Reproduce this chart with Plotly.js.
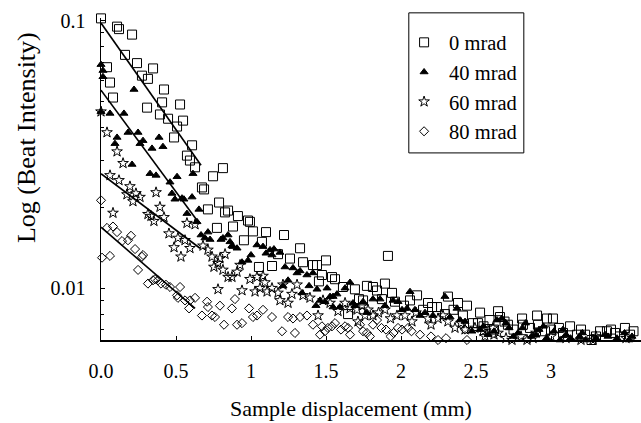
<!DOCTYPE html>
<html>
<head>
<meta charset="utf-8">
<script src="https://cdn.plot.ly/plotly-3.0.1.min.js"></script>
<style>html,body{margin:0;padding:0;background:#fff;}#chart{width:641px;height:423px;}</style>
</head>
<body>
<div id="chart"></div>
<script>
// ---- Data ----
const seriesNames = ['0 mrad', '40 mrad', '60 mrad', '80 mrad'];

const x0 = [0.0,0.18,0.107,0.12,0.207,0.16,0.24,0.04,0.347,0.313,0.273,0.06,0.42,0.08,0.527,0.407,0.307,0.393,0.447,0.547,0.507,0.487,0.607,0.573,0.593,0.627,0.813,0.747,0.673,0.687,0.787,0.847,0.713,0.913,0.98,0.827,0.993,0.773,0.88,1.013,1.10,0.953,1.073,1.22,1.327,1.18,1.26,1.053,1.14,1.347,1.413,1.44,1.50,1.473,1.54,1.56,1.453,1.613,1.693,1.773,1.813,1.893,1.84,1.72,1.647,1.94,1.96,1.913,2.107,1.747,1.873,2.313,2.44,2.207,2.24,2.147,2.293,2.527,2.647,2.413,2.48,2.66,2.807,2.907,2.973,3.013,2.813,2.913,3.127,3.173,3.373,3.427,3.493,3.227,2.713,2.513,3.327,3.053,3.527,3.27,2.96,2.59,
  2.55,2.62,2.69,2.75,2.86,3.0,3.08,3.2,3.3,3.40,3.46,3.55,2.02,2.06,2.18,2.35,2.38];
const y0 = [0.102,0.105,0.095,0.093,0.0887,0.0745,0.0694,0.067,0.0663,0.0606,0.0623,0.0587,0.0553,0.0516,0.0486,0.0495,0.0473,0.0446,0.0430,0.0423,0.0402,0.0366,0.0342,0.0313,0.0300,0.0283,0.0281,0.0262,0.0238,0.0234,0.0209,0.0195,0.0197,0.0186,0.0179,0.0192,0.0177,0.0168,0.0170,0.0163,0.0162,0.0151,0.0149,0.0158,0.0141,0.0134,0.0129,0.0120,0.0121,0.0125,0.0122,0.0122,0.0127,0.0112,0.0110,0.0108,0.0106,0.0101,0.0099,0.0102,0.0101,0.0104,0.0098,0.0091,0.0080,0.0096,0.0089,0.0132,0.0094,0.0090,0.0091,0.0093,0.0086,0.0085,0.0085,0.0083,0.0080,0.0081,0.0082,0.0079,0.0074,0.0078,0.0077,0.0079,0.0077,0.0077,0.0073,0.0073,0.0072,0.0067,0.0069,0.0068,0.0071,0.0067,0.0073,0.0074,0.0069,0.0071,0.0067,0.0064,0.0069,0.0076,
  0.0072,0.0070,0.0075,0.0070,0.0071,0.0070,0.0068,0.0070,0.0066,0.0070,0.0066,0.0069,0.0086,0.0090,0.0088,0.0083,0.0088];

const x40 = [0.0,0.013,0.013,0.22,0.0,0.06,0.153,0.18,0.247,0.107,
  0.093,0.28,0.26,0.387,0.34,0.413,0.207,0.327,0.367,0.613,
  0.46,0.507,0.473,0.493,0.54,0.553,0.607,0.573,0.64,0.653,
  0.713,0.667,0.693,0.727,0.80,0.813,0.847,0.873,0.86,0.88,
  0.907,1.04,1.08,1.00,0.94,0.98,1.127,1.10,1.153,1.193,
  1.14,1.227,1.28,1.307,1.327,1.247,1.213,1.373,1.413,1.387,
  1.34,1.44,1.507,1.527,1.547,1.573,1.66,1.627,1.46,1.493,
  1.433,1.547,1.593,1.68,1.747,1.693,1.773,1.813,1.86,1.893,
  1.947,1.98,2.007,2.06,2.04,2.093,2.127,2.16,2.213,2.293,
  2.327,2.373,2.393,2.427,2.473,2.48,2.527,2.58,2.64,2.673,
  2.72,2.78,2.83,2.87,2.92,2.97,3.02,3.06,3.10,3.15,
  3.19,3.23,3.27,3.30,3.34,3.38,3.42,3.46,3.49,3.52,3.55,
  2.55,2.62,2.70,2.75,2.81,2.9,2.95,3.0,3.08,3.13,3.21,3.29,3.36,3.44,3.50,3.54];
const y40 = [0.0685,0.0651,0.0617,0.0553,0.0457,0.0450,0.0450,0.0382,0.0382,0.0366,
  0.0347,0.0356,0.0347,0.0366,0.0333,0.0338,0.0290,0.0268,0.0264,0.0268,
  0.0249,0.0261,0.0226,0.0215,0.0217,0.0215,0.0219,0.0190,0.0177,0.0197,
  0.0162,0.0158,0.0154,0.0152,0.0152,0.0154,0.0158,0.0144,0.0149,0.0143,
  0.0141,0.0145,0.0143,0.0133,0.0125,0.0127,0.0139,0.0135,0.0140,0.0136,
  0.0133,0.0120,0.0119,0.0114,0.0116,0.0107,0.0102,0.0112,0.0114,0.0102,
  0.0096,0.0099,0.0100,0.0093,0.0093,0.0095,0.0105,0.0100,0.0090,0.0089,
  0.0086,0.0085,0.0085,0.0088,0.0089,0.0086,0.0081,0.0091,0.0091,0.0086,
  0.0090,0.0089,0.0083,0.0097,0.0084,0.0083,0.0079,0.0081,0.0079,0.0093,
  0.0078,0.0084,0.0076,0.0075,0.0069,0.0058,0.0070,0.0067,0.0076,0.0077,
  0.0071,0.0068,0.0074,0.0066,0.0070,0.0065,0.0069,0.0064,0.0067,0.0063,
  0.0066,0.0064,0.0062,0.0065,0.0061,0.0066,0.0063,0.0060,0.0068,0.0064,0.0058,
  0.0072,0.0069,0.0074,0.0066,0.0071,0.0067,0.0072,0.0062,0.0070,0.0065,0.0068,0.0063,0.0067,0.0065,0.0062,0.0066];

const x60 = [0.0,0.04,0.107,0.147,0.06,0.12,0.193,0.173,0.233,0.213,
  0.26,0.367,0.08,0.313,0.333,0.393,0.353,0.42,0.573,0.627,
  0.453,0.513,0.56,0.487,0.593,0.533,0.68,0.713,0.74,0.793,
  0.78,0.753,0.827,0.813,0.847,0.873,0.78,0.927,0.907,0.94,
  0.993,1.04,1.08,1.093,1.027,1.06,1.107,1.14,1.18,1.213,
  1.273,1.307,1.247,1.193,1.347,1.393,1.447,1.48,1.527,1.58,
  1.627,1.66,1.707,1.74,1.76,1.713,1.78,1.813,1.893,1.973,
  2.027,2.073,2.18,2.247,2.313,2.36,2.427,2.493,2.547,2.613,
  2.647,2.673,2.74,2.84,2.80,2.90,2.95,3.00,3.05,3.10,
  3.15,3.20,3.25,3.30,3.35,3.40,3.45,3.50,3.55,
  2.56,2.62,2.70,2.77,2.88,2.98,3.08,3.18,3.28,3.38,3.48,1.85,1.93,2.1,2.2,2.28,2.4];
const y60 = [0.0457,0.0382,0.0324,0.0293,0.0264,0.0253,0.0240,0.0224,0.0226,0.0211,
  0.0219,0.0228,0.0191,0.0189,0.0186,0.0201,0.0178,0.0184,0.0175,0.0173,
  0.0160,0.0154,0.0151,0.0142,0.0141,0.0131,0.0144,0.0139,0.0131,0.0129,
  0.0124,0.0120,0.0134,0.0117,0.0110,0.0110,0.0099,0.0122,0.0115,0.0098,
  0.0108,0.0110,0.0111,0.0105,0.0097,0.0100,0.0097,0.0100,0.0096,0.0103,
  0.0095,0.0103,0.0088,0.0090,0.0094,0.0092,0.0079,0.0090,0.0088,0.0082,
  0.0088,0.0084,0.0083,0.0086,0.0079,0.0075,0.0083,0.0079,0.0083,0.0079,
  0.0079,0.0075,0.0077,0.0077,0.0075,0.0071,0.0070,0.0071,0.0069,0.0071,
  0.0068,0.0061,0.0064,0.0064,0.0066,0.0068,0.0063,0.0066,0.0061,0.0065,
  0.0060,0.0064,0.0062,0.0066,0.0060,0.0063,0.0061,0.0065,0.0062,
  0.0066,0.0067,0.0065,0.0062,0.0065,0.0062,0.0063,0.0062,0.0064,0.0062,0.0063,0.0081,0.0077,0.0081,0.0073,0.0079,0.0074];

const x80 = [0.0,0.007,0.06,0.04,0.08,0.107,0.14,0.18,0.20,0.227,
  0.273,0.28,0.247,0.313,0.347,0.36,0.38,0.40,0.433,0.46,
  0.527,0.507,0.513,0.56,0.593,0.627,0.587,0.707,0.713,0.673,
  0.74,0.76,0.793,0.82,0.873,0.893,0.907,0.94,0.987,1.013,
  1.04,1.08,1.14,1.207,1.247,1.28,1.293,1.327,1.373,1.413,
  1.46,1.473,1.493,1.513,1.54,1.56,1.60,1.627,1.647,1.66,
  1.727,1.747,1.773,1.793,1.813,1.84,1.90,1.93,1.98,2.007,
  2.047,2.127,2.147,2.247,2.327,2.427,2.44,2.58,2.607,2.573,
  2.66,2.747,2.773,2.85,2.907,2.97,3.03,3.10,3.193,3.24,
  3.28,3.33,3.373,3.42,3.46,3.50,3.54,3.56,
  2.62,2.7,2.82,2.95,3.06,3.15,3.3,3.45,3.52,1.87,1.95,2.07,2.2,2.3];
const y80 = [0.0213,0.0130,0.0132,0.0168,0.0170,0.0162,0.0150,0.0151,0.0157,0.0140,
  0.0131,0.0133,0.0117,0.0104,0.0107,0.0108,0.0107,0.0104,0.0103,0.0101,
  0.0101,0.0094,0.0092,0.0090,0.0090,0.0092,0.0084,0.0089,0.0085,0.0079,
  0.0079,0.0078,0.0086,0.0073,0.0084,0.0091,0.0073,0.0074,0.0084,0.0078,
  0.0079,0.0083,0.0078,0.0069,0.0078,0.0077,0.0068,0.0078,0.0079,0.0073,
  0.0067,0.0072,0.0069,0.0071,0.0072,0.0074,0.0070,0.0072,0.0071,0.0067,
  0.0073,0.0069,0.0068,0.0066,0.0073,0.0076,0.0070,0.0066,0.0071,0.0070,
  0.0071,0.0067,0.0063,0.0064,0.0061,0.0070,0.0064,0.0060,0.0059,0.0055,
  0.0063,0.0056,0.0060,0.0062,0.0059,0.0061,0.0058,0.0060,0.0062,0.0057,
  0.0055,0.0059,0.0056,0.0058,0.0055,0.0059,0.0052,0.0055,
  0.0061,0.0058,0.0058,0.0062,0.0057,0.0059,0.0057,0.0058,0.0056,0.0071,0.0068,0.0069,0.0066,0.0065];

// Fitted lines (start, end) for each series
const fitX0 = [0, 0.667],  fitY0 = [0.098, 0.0288];
const fitX40 = [0, 0.647], fitY40 = [0.055, 0.0177];
const fitX60 = [0, 0.66],  fitY60 = [0.0268, 0.0141];
const fitX80 = [0, 0.627], fitY80 = [0.0169, 0.0084];

const xTickVals = [0, 0.5, 1, 1.5, 2, 2.5, 3];
const xTickText = ['0.0', '0.5', '1', '1.5', '2', '2.5', '3'];
const yTickVals = [0.01, 0.1];
const yTickText = ['0.01', '0.1'];
const yMinorVals = [0.007, 0.008, 0.009, 0.02, 0.03, 0.04, 0.05, 0.06, 0.07, 0.08, 0.09];
const xTitle = 'Sample displacement (mm)';
const yTitle = 'Log (Beat Intensity)';

// ---- Chart ----
const FONT = 'Liberation Serif, Times New Roman, serif';
function pts(x, y, name, symbol, size) {
  return {x: x, y: y, name: name, type: 'scatter', mode: 'markers', cliponaxis: false,
    marker: {symbol: symbol, size: size, color: '#000', line: {color: '#000', width: 1}}};
}
function fit(x, y) {
  return {x: x, y: y, type: 'scatter', mode: 'lines', showlegend: false, hoverinfo: 'skip',
    line: {color: '#000', width: 1.6}};
}
const data = [
  pts(x0, y0, seriesNames[0], 'square-open', 9),
  pts(x40, y40, seriesNames[1], 'triangle-up', 7),
  pts(x60, y60, seriesNames[2], 'star-open', 8),
  pts(x80, y80, seriesNames[3], 'diamond-open', 7),
  fit(fitX0, fitY0), fit(fitX40, fitY40), fit(fitX60, fitY60), fit(fitX80, fitY80)
];
const layout = {
  width: 641, height: 423,
  margin: {l: 101, r: 0, t: 18, b: 83},
  paper_bgcolor: '#fff', plot_bgcolor: '#fff',
  font: {family: FONT, color: '#000', size: 20},
  showlegend: true,
  legend: {x: 0.552, y: 0.986, xanchor: 'left', yanchor: 'top', bgcolor: 'rgba(0,0,0,0)',
    borderwidth: 0, font: {family: FONT, size: 20.5, color: '#000'}, itemwidth: 40, tracegroupgap: 0},
  shapes: [{type: 'rect', xref: 'paper', yref: 'paper', x0: 0.570, x1: 0.783, y0: 0.581, y1: 1.016,
    line: {color: '#000', width: 1}, fillcolor: 'rgba(0,0,0,0)'}],
  annotations: [
    {text: yTitle, xref: 'paper', yref: 'paper', x: -0.139, y: 0.63,
      xanchor: 'center', yanchor: 'middle', textangle: -90, showarrow: false,
      font: {family: FONT, size: 26, color: '#000'}},
    {text: xTitle, xref: 'paper', yref: 'paper', x: 0.463, y: -0.214,
      xanchor: 'center', yanchor: 'middle', showarrow: false,
      font: {family: FONT, size: 22, color: '#000'}}
  ],
  xaxis: {range: [0, 3.6], showline: true, linecolor: '#000', linewidth: 1.5, mirror: false,
    showgrid: false, zeroline: false, ticks: 'inside', ticklen: 4, tickcolor: '#000',
    tickvals: xTickVals, ticktext: xTickText, ticklabelstandoff: 12,
    tickfont: {family: FONT, size: 20, color: '#000'}},
  yaxis: {type: 'log', range: [Math.log10(0.0064), -0.99], showline: true, linecolor: '#000', linewidth: 1.5,
    showgrid: false, zeroline: false, ticks: 'inside', ticklen: 4, tickcolor: '#000',
    tickvals: yTickVals, ticktext: yTickText, ticklabelstandoff: 10,
    minor: {tickvals: yMinorVals, ticks: 'inside', ticklen: 3, tickcolor: '#000', showgrid: false},
    tickfont: {family: FONT, size: 20, color: '#000'}}
};
Plotly.newPlot('chart', data, layout, {displayModeBar: false, staticPlot: true});
</script>
</body>
</html>
